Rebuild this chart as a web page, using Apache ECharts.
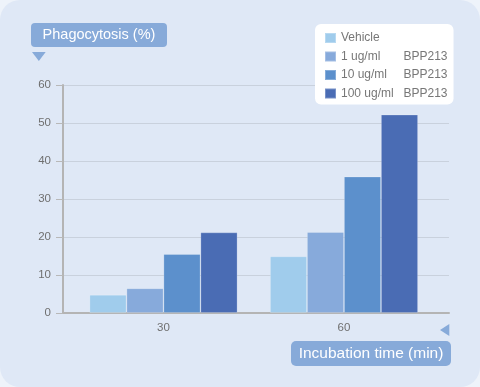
<!DOCTYPE html>
<html>
<head>
<meta charset="utf-8">
<script src="https://cdn.jsdelivr.net/npm/echarts@6/dist/echarts.min.js"></script>
<style>
  html, body { margin: 0; padding: 0; background: #eef3fa; }
  #wrap { width: 480px; height: 387px; background: #dfe8f6; border-radius: 20px; overflow: hidden; }
  #chart { width: 480px; height: 387px; }
</style>
</head>
<body>
<div id="wrap"><div id="chart"></div></div>
<script>
// ---- data ----
const times = [30, 60];                       // incubation time (min)
const doses = ['Vehicle', '1 ug/ml', '10 ug/ml', '100 ug/ml'];
const compound = 'BPP213';
const vehicle = [4.8, 14.9];
const dose1 = [6.5, 21.3];
const dose10 = [15.5, 35.9];
const dose100 = [21.2, 52.2];
const yTicks = [0, 10, 20, 30, 40, 50, 60];
const yTitle = 'Phagocytosis (%)';
const xTitle = 'Incubation time (min)';

const colors = ['#a0ccec', '#87aadb', '#5c90cc', '#4a6cb4'];
const seriesValues = [vehicle, dose1, dose10, dose100];
const names = doses.map((d, i) => i === 0 ? d : d + ' ' + compound);

const font = 'Liberation Sans, Arial, sans-serif';
const chart = echarts.init(document.getElementById('chart'), null, { renderer: 'canvas' });

chart.setOption({
  backgroundColor: 'transparent',
  animation: false,
  textStyle: { fontFamily: font },
  grid: { left: 63, right: 31, top: 85, bottom: 74, containLabel: false },
  xAxis: {
    type: 'value',
    min: 13.3,
    max: 77.45,
    axisLine: { show: true, onZero: false, lineStyle: { color: '#b4b4b4', width: 2 } },
    axisTick: { show: false },
    splitLine: { show: false },
    axisLabel: { customValues: times, color: '#6f6f6f', fontSize: 11.5, margin: 9, fontFamily: font }
  },
  yAxis: {
    type: 'value',
    min: yTicks[0],
    max: yTicks[yTicks.length - 1],
    interval: 10,
    axisLine: { show: true, lineStyle: { color: '#b4b4b4', width: 2 } },
    axisTick: { show: true, length: 7, lineStyle: { color: '#b8b8b8', width: 1 } },
    axisLabel: { color: '#6f6f6f', fontSize: 11.5, margin: 12, fontFamily: font },
    splitLine: { show: true, lineStyle: { color: '#c9d1dd', width: 1 } }
  },
  legend: {
    left: 315,
    top: 24,
    orient: 'vertical',
    backgroundColor: '#ffffff',
    borderRadius: 6,
    padding: [8, 6, 5, 9],
    itemWidth: 11,
    itemHeight: 10,
    itemGap: 6.5,
    icon: 'rect',
    data: names,
    formatter: function (name) {
      const i = names.indexOf(name);
      if (i === 0) return '{a|' + doses[0] + '}';
      return '{a|' + doses[i] + '}{b|' + compound + '}';
    },
    textStyle: {
      color: '#777777',
      fontSize: 12,
      lineHeight: 12,
      fontFamily: font,
      rich: {
        a: { width: 62.5, fontSize: 12, color: '#777777', fontFamily: font },
        b: { fontSize: 12, color: '#777777', fontFamily: font }
      }
    }
  },
  series: seriesValues.map((vals, i) => ({
    type: 'bar',
    name: names[i],
    barWidth: 37,
    barGap: '0%',
    itemStyle: { color: colors[i], borderColor: 'rgba(255,255,255,0.25)', borderWidth: 0.8 },
    data: times.map((t, j) => [t, vals[j]])
  })),
  graphic: [
    { type: 'rect', shape: { x: 31, y: 23, width: 136, height: 24, r: 4 }, style: { fill: '#87aad9' } },
    { type: 'text', x: 99, y: 35, style: { text: yTitle, fill: '#ffffff', font: '14.5px ' + font, align: 'center', verticalAlign: 'middle' } },
    { type: 'polygon', shape: { points: [[32, 52], [45.7, 52], [38.85, 61]] }, style: { fill: '#87aad9' } },
    { type: 'rect', shape: { x: 291, y: 341, width: 160, height: 25, r: 5 }, style: { fill: '#87aad9' } },
    { type: 'text', x: 371, y: 353.5, style: { text: xTitle, fill: '#ffffff', font: '15.5px ' + font, align: 'center', verticalAlign: 'middle' } },
    { type: 'polygon', shape: { points: [[449.3, 324], [449.3, 336], [440, 330]] }, style: { fill: '#87aad9' } }
  ]
});
</script>
</body>
</html>
